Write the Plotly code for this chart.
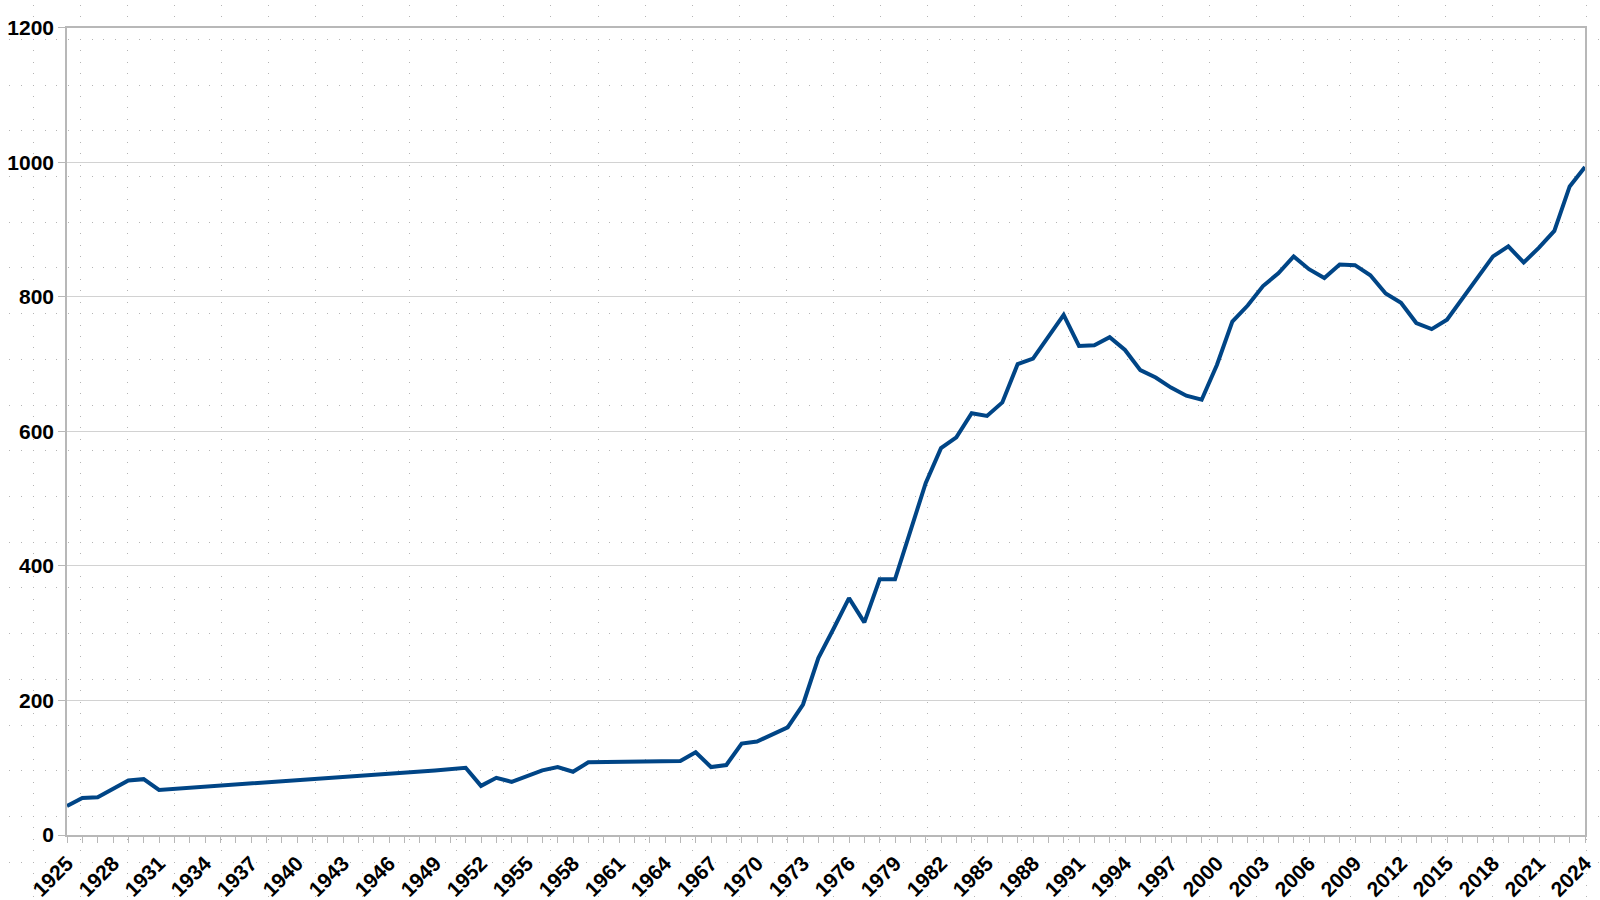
import plotly.graph_objects as go

# ---- data ----
years = [1925, 1926, 1927, 1928, 1929, 1930, 1931, 1949, 1950, 1951,
         1952, 1953, 1954, 1955, 1956, 1957, 1958, 1959, 1965, 1966,
         1967, 1968, 1969, 1970, 1971, 1972, 1973, 1974, 1975, 1976,
         1977, 1978, 1979, 1980, 1981, 1982, 1983, 1984, 1985, 1986,
         1987, 1988, 1989, 1990, 1991, 1992, 1993, 1994, 1995, 1996,
         1997, 1998, 1999, 2000, 2001, 2002, 2003, 2004, 2005, 2006,
         2007, 2008, 2009, 2010, 2011, 2012, 2013, 2014, 2015, 2016,
         2017, 2018, 2019, 2020, 2021, 2022, 2023, 2024]
values = [43, 55, 56, 68, 81, 83, 67, 96, 98, 100,
          73, 85, 79, 88, 96, 101, 94, 108, 110, 123,
          101, 104, 136, 139, 150, 160, 194, 263, 307, 352,
          316, 380, 380, 451, 523, 575, 591, 627, 623, 643,
          700, 708, 740, 773, 727, 728, 740, 721, 691, 680,
          665, 653, 647, 699, 763, 787, 816, 835, 860, 841,
          828, 848, 847, 832, 805, 791, 761, 752, 766, 797,
          829, 860, 875, 851, 873, 898, 964, 993]

tick_years = list(range(1925, 2025, 3))
tick_labels = [str(y) for y in tick_years]
y_ticks = [0, 200, 400, 600, 800, 1000, 1200]

LINE_COLOR = "#004586"
AXIS_COLOR = "#b8b8b8"
GRID_COLOR = "#d2d2d2"
DOT_COLOR = "#b4b4b4"
FONT = dict(family="Liberation Sans, Arial, sans-serif", size=21, color="#000000", weight="bold")

fig = go.Figure()

# background dotted lattice (empty trace so the full-page grid axes are drawn)
fig.add_trace(go.Scatter(x=[], y=[], xaxis="x", yaxis="y", hoverinfo="skip", showlegend=False))

# main data line
fig.add_trace(go.Scatter(
    x=years, y=values, xaxis="x2", yaxis="y2", mode="lines",
    line=dict(color=LINE_COLOR, width=4), showlegend=False,
))

fig.update_layout(
    width=1600, height=900,
    margin=dict(l=0, r=0, t=0, b=0, pad=0),
    paper_bgcolor="white",
    plot_bgcolor="rgba(0,0,0,0)",
    showlegend=False,
    xaxis=dict(
        domain=[0, 1], range=[0, 1600], anchor="y",
        tickmode="linear", tick0=33.3, dtick=47.06,
        showgrid=True, gridcolor=DOT_COLOR, gridwidth=1,
        griddash="0px,4.5px,1px,5.93px",
        showticklabels=False, ticks="", zeroline=False, showline=False,
        fixedrange=True,
    ),
    yaxis=dict(
        domain=[0, 1], range=[900, 0], anchor="x",
        tickmode="linear", tick0=39.3, dtick=45.72,
        showgrid=True, gridcolor=DOT_COLOR, gridwidth=1,
        griddash="0px,9.27px,1px,1.495px",
        showticklabels=False, ticks="", zeroline=False, showline=False,
        fixedrange=True,
    ),
    xaxis2=dict(
        domain=[67 / 1600, 1585 / 1600], anchor="y2",
        range=[1925, 2024],
        tickmode="array", tickvals=tick_years, ticktext=tick_labels,
        tickangle=-45, tickfont=FONT,
        ticks="outside", ticklen=6, tickwidth=1, tickcolor=AXIS_COLOR,
        minor=dict(tickmode="linear", tick0=1925, dtick=1, ticks="outside",
                   ticklen=6, tickwidth=1, tickcolor=AXIS_COLOR, showgrid=False),
        showline=True, linecolor=AXIS_COLOR, linewidth=1.5, mirror=True,
        showgrid=False, zeroline=False, automargin=False,
    ),
    yaxis2=dict(
        domain=[(900 - 835) / 900, (900 - 27.7) / 900], anchor="x2",
        range=[0, 1200],
        tickmode="array", tickvals=y_ticks, ticktext=[str(v) for v in y_ticks],
        tickfont=FONT,
        ticks="outside", ticklen=7, tickwidth=1, tickcolor=AXIS_COLOR,
        showline=True, linecolor=AXIS_COLOR, linewidth=1.5, mirror=True,
        showgrid=True, gridcolor=GRID_COLOR, gridwidth=1,
        zeroline=False, automargin=False,
    ),
)

fig.write_html(
    "out.html",
    config={"displayModeBar": False},
    post_script="document.body.style.margin='0px';document.body.style.overflow='hidden';",
)
